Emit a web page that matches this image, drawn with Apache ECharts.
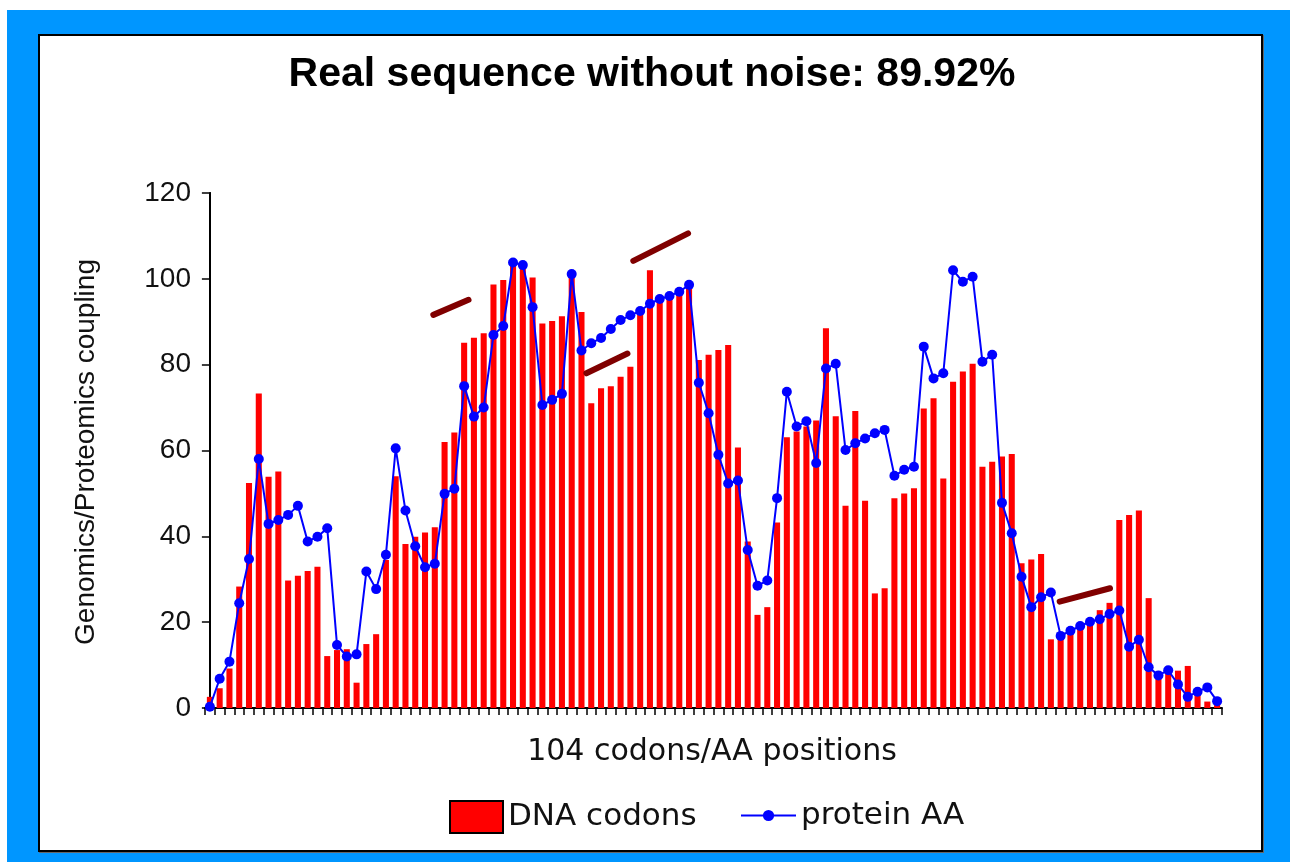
<!DOCTYPE html>
<html>
<head>
<meta charset="utf-8">
<title>Real sequence without noise: 89.92%</title>
<script src="https://cdn.jsdelivr.net/npm/echarts@6.0.0/dist/echarts.min.js"></script>
<style>
    html, body { margin: 0; padding: 0; background: #fff; }
    #frame { position: absolute; left: 7px; top: 10px; width: 1283px; height: 852px; background: #0096FF; }
    #panel { position: absolute; left: 38px; top: 34px; width: 1221px; height: 814px; background: #fff; border: 2px solid #000; box-shadow: 1px 1px 0 #666; }
    #chart { position: absolute; left: 0; top: 0; width: 1290px; height: 862px; }
</style>
</head>
<body>
<div id="frame"></div>
<div id="panel"></div>
<div id="chart"></div>
<script>
// 104 codon / AA positions
const positions = Array.from({ length: 104 }, (_, i) => String(i + 1));

// red bars
const dnaCodons = [
    2.6, 4.6, 9.2, 28.3, 52.4, 73.3, 53.9, 55.1, 29.7, 30.8,
    31.9, 32.9, 12.1, 13.5, 13.7, 5.9, 14.9, 17.2, 34.5, 54,
    38.2, 39.9, 40.9, 42.1, 62, 64.2, 85.1, 86.3, 87.3, 98.7,
    99.7, 103.6, 102.8, 100.3, 89.6, 90.2, 91.3, 100.5, 92.3, 71,
    74.5, 75, 77.2, 79.5, 93.1, 102, 95, 95.5, 97, 98.2,
    81.1, 82.3, 83.4, 84.6, 60.7, 38.8, 21.7, 23.5, 43.2, 63.1,
    64.4, 65.6, 67, 88.5, 68, 47.1, 69.2, 48.3, 26.7, 27.9,
    48.9, 50, 51.2, 69.8, 72.2, 53.5, 76, 78.4, 80.2, 56.2,
    57.4, 58.6, 59.2, 33.7, 34.6, 35.9, 16, 17.4, 18.2, 19,
    20.1, 22.8, 24.5, 43.8, 45, 46, 25.6, 8, 9.6, 8.7,
    9.8, 3.2, 1.5, 0.8
];

// blue line
const proteinAA = [
    0.3, 6.8, 10.8, 24.4, 34.7, 58, 42.9, 43.8, 45, 47.1,
    38.8, 39.9, 41.9, 14.7, 12, 12.5, 31.8, 27.7, 35.7, 60.5,
    46, 37.7, 32.8, 33.6, 49.9, 51.1, 75, 67.9, 70, 86.9,
    89, 103.8, 103.2, 93.4, 70.6, 71.8, 73.2, 101.1, 83.3, 85,
    86.2, 88.3, 90.4, 91.5, 92.5, 94.2, 95.3, 96, 97, 98.6,
    75.8, 68.7, 59, 52.3, 53, 36.8, 28.5, 29.7, 48.9, 73.7,
    65.6, 66.8, 57.1, 79.1, 80.2, 60.1, 61.7, 62.8, 64, 64.8,
    54.1, 55.5, 56.2, 84.2, 76.8, 78, 102, 99.3, 100.5, 80.7,
    82.3, 47.8, 40.7, 30.6, 23.5, 25.8, 26.9, 16.8, 18, 19.1,
    20.1, 20.7, 21.9, 22.7, 14.3, 15.9, 9.5, 7.6, 8.8, 5.5,
    2.6, 3.8, 4.8, 1.6
];

// dark red strokes drawn over the plot: [position, value] pairs
const noteSegments = [
    [[22.85, 91.6], [26.45, 95.1]],
    [[38.5, 78.0], [42.7, 82.6]],
    [[43.3, 104.2], [48.9, 110.6]],
    [[86.9, 24.8], [92.05, 27.9]]
];

const yTicks = [0, 20, 40, 60, 80, 100, 120];

const chart = echarts.init(document.getElementById('chart'), null, { renderer: 'canvas' });

const GRID = { left: 205, top: 193, right: 68, bottom: 154 };
const textFont = '"DejaVu Sans", sans-serif';
const numFont = '"Liberation Sans", Arial, sans-serif';

chart.setOption({
    animation: false,
    backgroundColor: 'transparent',
    grid: GRID,
    graphic: [
        { type: 'text', x: 652, y: 75, style: { text: 'Real sequence without noise: 89.92%', font: 'bold 41px "Liberation Sans", Arial, sans-serif', fill: '#000', align: 'center', verticalAlign: 'middle' } },
        { type: 'text', x: 712, y: 752, style: { text: '104 codons/AA positions', font: '30px ' + textFont, fill: '#111', align: 'center', verticalAlign: 'middle' } },
        { type: 'text', x: 86, y: 452, rotation: Math.PI / 2, style: { text: 'Genomics/Proteomics coupling', font: '28px ' + numFont, fill: '#111', align: 'center', verticalAlign: 'middle' } }
    ],
    legend: [
        { data: [{ name: 'DNA codons', icon: 'rect' }], left: 444, top: 795, itemWidth: 53, itemHeight: 32, itemGap: 0,
          textStyle: { fontFamily: textFont, fontSize: 31, color: '#111' },
          itemStyle: { borderColor: '#000', borderWidth: 2 } },
        { data: ['protein AA'], left: 735, top: 795, itemWidth: 55, itemHeight: 14, itemGap: 0,
          textStyle: { fontFamily: textFont, fontSize: 31, color: '#111' } }
    ],
    xAxis: [
        {
            type: 'category', data: positions, boundaryGap: true,
            axisLine: { lineStyle: { color: '#000', width: 2 } },
            axisTick: { show: true, interval: 0, length: 7, lineStyle: { color: '#000', width: 1.5 } },
            axisLabel: { show: false },
            splitLine: { show: false }
        },
        {
            type: 'value', min: -0.5, max: 103.5, show: false
        }
    ],
    yAxis: [
        {
            type: 'value', min: yTicks[0], max: yTicks[yTicks.length - 1], interval: 20,
            axisLine: { show: true, lineStyle: { color: '#000', width: 2 } },
            axisTick: { show: true, length: 8, lineStyle: { color: '#000', width: 1.5 } },
            axisLabel: { margin: 14, fontFamily: numFont, fontSize: 28, color: '#111' },
            splitLine: { show: false }
        },
        {
            type: 'value', min: yTicks[0], max: yTicks[yTicks.length - 1], interval: 20, position: 'left',
            axisLine: { show: false },
            axisTick: { show: true, inside: true, length: 6, lineStyle: { color: '#000', width: 1.5 } },
            axisLabel: { show: false },
            splitLine: { show: false }
        }
    ],
    series: [
        {
            name: 'DNA codons', type: 'bar', data: dnaCodons,
            barCategoryGap: '38%',
            itemStyle: { color: '#FF0000' },
            z: 2
        },
        {
            name: 'protein AA', type: 'line', data: proteinAA,
            symbol: 'circle', symbolSize: 10, showAllSymbol: true,
            lineStyle: { color: '#0000FF', width: 2 },
            itemStyle: { color: '#0000FF' },
            z: 3
        },
        ...noteSegments.map((seg, k) => ({
            name: 'note' + k, type: 'line', xAxisIndex: 1, data: seg,
            symbol: 'none', silent: true,
            lineStyle: { color: '#800000', width: 6, cap: 'round' },
            z: 4
        }))
    ]
});

window.addEventListener('resize', () => chart.resize());
</script>
</body>
</html>
